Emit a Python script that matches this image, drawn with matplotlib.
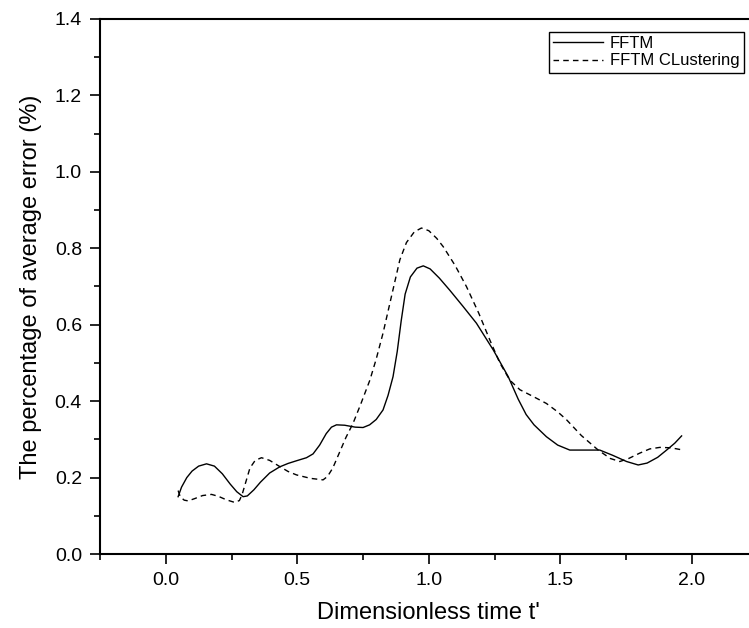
import matplotlib
matplotlib.use("Agg")
import matplotlib.pyplot as plt
from matplotlib.ticker import MultipleLocator

plt.rcParams['font.family'] = ['Liberation Sans', 'DejaVu Sans']

# FFTM (solid line)
t_fftm = [0.047, 0.06, 0.08, 0.10, 0.125, 0.155, 0.185, 0.215, 0.245, 0.27, 0.294,
          0.31, 0.335, 0.36, 0.395, 0.433, 0.465, 0.497, 0.535, 0.56, 0.585, 0.61,
          0.63, 0.649, 0.68, 0.72, 0.75, 0.775, 0.80, 0.826, 0.845, 0.864, 0.88,
          0.895, 0.91, 0.93, 0.955, 0.979, 1.005, 1.04, 1.08, 1.13, 1.181, 1.245,
          1.302, 1.34, 1.37, 1.40, 1.447, 1.49, 1.536, 1.60, 1.65, 1.70, 1.752,
          1.796, 1.83, 1.87, 1.904, 1.935, 1.961]
err_fftm = [0.150, 0.175, 0.200, 0.217, 0.230, 0.236, 0.230, 0.210, 0.183, 0.163, 0.150,
            0.152, 0.168, 0.188, 0.212, 0.228, 0.237, 0.244, 0.252, 0.262, 0.285, 0.315,
            0.332, 0.338, 0.337, 0.332, 0.331, 0.338, 0.352, 0.377, 0.415, 0.464, 0.53,
            0.61, 0.68, 0.725, 0.748, 0.754, 0.746, 0.722, 0.690, 0.648, 0.604, 0.534,
            0.464, 0.405, 0.365, 0.338, 0.307, 0.285, 0.272, 0.272, 0.272, 0.258, 0.242,
            0.233, 0.238, 0.253, 0.272, 0.290, 0.309]

# FFTM CLustering (dashed line)
t_clu = [0.047, 0.055, 0.07, 0.085, 0.11, 0.14, 0.174, 0.20, 0.23, 0.262, 0.28,
         0.29, 0.305, 0.32, 0.34, 0.364, 0.395, 0.433, 0.465, 0.497, 0.55, 0.598,
         0.615, 0.635, 0.66, 0.685, 0.712, 0.74, 0.776, 0.80, 0.826, 0.86, 0.89,
         0.915, 0.945, 0.972, 1.00, 1.03, 1.055, 1.10, 1.143, 1.19, 1.232, 1.27,
         1.308, 1.346, 1.40, 1.447, 1.49, 1.524, 1.58, 1.644, 1.69, 1.726, 1.76,
         1.802, 1.84, 1.878, 1.92, 1.967]
err_clu = [0.166, 0.150, 0.141, 0.139, 0.145, 0.153, 0.156, 0.151, 0.142, 0.135, 0.140,
           0.155, 0.190, 0.225, 0.245, 0.252, 0.245, 0.229, 0.216, 0.207, 0.198, 0.194,
           0.203, 0.225, 0.265, 0.305, 0.342, 0.39, 0.455, 0.51, 0.578, 0.68, 0.77,
           0.815, 0.843, 0.853, 0.846, 0.826, 0.804, 0.755, 0.700, 0.63, 0.560, 0.500,
           0.455, 0.430, 0.411, 0.394, 0.372, 0.351, 0.310, 0.272, 0.250, 0.242, 0.250,
           0.264, 0.275, 0.279, 0.278, 0.272]

fig = plt.figure(figsize=(7.49, 6.28), dpi=100)
# axes runs a bit past the right edge, as in the cropped original
ax = fig.add_axes([0.1335, 0.1178, 0.878, 0.852])

ax.plot(t_fftm, err_fftm, color='black', linewidth=1.0, label='FFTM')
ax.plot(t_clu, err_clu, color='black', linewidth=1.0, linestyle=(0, (4, 3)),
        label='FFTM CLustering')

ax.set_xlim(-0.25, 2.25)
ax.set_ylim(0.0, 1.4)
ax.xaxis.set_major_locator(MultipleLocator(0.5))
ax.xaxis.set_minor_locator(MultipleLocator(0.25))
ax.yaxis.set_major_locator(MultipleLocator(0.2))
ax.yaxis.set_minor_locator(MultipleLocator(0.1))
ax.xaxis.set_major_formatter(plt.FormatStrFormatter('%.1f'))
ax.yaxis.set_major_formatter(plt.FormatStrFormatter('%.1f'))

ax.tick_params(which='both', direction='out', top=False, right=False, width=1.2)
ax.tick_params(which='major', length=7, labelsize=14, pad=6)
ax.tick_params(which='minor', length=4)
for s in ax.spines.values():
    s.set_linewidth(1.5)

ax.set_xlabel("Dimensionless time t'", fontsize=17, labelpad=9)
ax.set_ylabel('The percentage of average error (%)', fontsize=17, labelpad=9)

leg = ax.legend(loc='upper right', bbox_to_anchor=(0.979, 0.976), borderaxespad=0,
                fontsize=12, fancybox=False, framealpha=1, edgecolor='black',
                handlelength=3.0, handletextpad=0.4, borderpad=0.25, labelspacing=0.15)
leg.get_frame().set_linewidth(1.0)

fig.savefig('out.png', dpi=100)
